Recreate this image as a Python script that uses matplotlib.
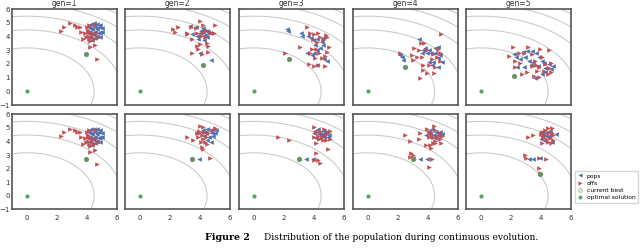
import numpy as np
import matplotlib
matplotlib.use("Agg")
import matplotlib.pyplot as plt
from matplotlib.lines import Line2D

BLUE = "#4C72B0"
RED = "#C44E52"
GREEN = "#55A868"

titles = ["gen=1", "gen=2", "gen=3", "gen=4", "gen=5"]
contour_levels = [20, 40, 60, 80, 100]
optimal = (0.0, 0.0)
x_ticks = [0, 2, 4, 6]
y_ticks = [-1, 0, 1, 2, 3, 4, 5, 6]

# ---- top row ----
pops_t1 = [(4.11,4.71),(4.27,4.91),(4.44,4.95),(4.67,4.91),(4.89,4.83),(5.0,4.59),(4.89,4.35),(4.78,4.22),
           (4.67,4.03),(4.51,3.86),(4.33,3.74),(4.22,3.98),(4.18,4.35),(4.33,4.52),(4.51,4.35),(4.67,4.52),
           (4.56,4.71),(4.4,4.22),(4.04,4.22),(4.78,4.71),(5.0,4.35),(4.44,4.1),(4.18,4.59),(4.89,3.98)]
offs_t1 = [(2.29,4.42),(2.49,4.71),(2.89,4.95),(3.22,4.83),(3.33,4.71),(3.51,4.71),(3.62,4.30),(3.73,3.81),
           (4.04,4.05),(4.22,3.69),(4.51,3.37),(4.18,3.25),(4.67,2.33),(3.89,4.22),(4.0,4.66),(4.07,4.47),
           (4.13,4.83),(4.22,4.32),(4.31,4.15),(3.96,3.93),(4.11,3.79),(4.36,3.93),(4.49,3.79),(4.62,4.22),
           (4.04,4.35),(4.78,3.98),(4.56,4.83)]
best_t1 = (3.91, 2.75)

pops_t2 = [(3.33,4.76),(3.73,4.66),(4.11,4.47),(4.22,4.3),(4.0,4.22),(3.89,3.79),(4.27,3.74),(4.49,3.93),
           (4.67,4.22),(4.0,2.76),(4.71,2.28),(3.44,4.18),(4.44,4.42),(4.33,4.1),(3.82,4.03),(4.18,4.59),
           (4.56,4.32),(4.04,4.42)]
offs_t2 = [(2.22,4.52),(2.56,4.71),(2.33,4.35),(3.11,4.15),(4.0,5.15),(4.22,4.83),(5.0,4.83),(4.67,4.22),
           (4.93,4.22),(4.33,3.98),(3.44,3.79),(4.0,3.45),(4.56,3.30),(4.56,2.89),(3.89,3.06),(3.44,2.76),
           (4.11,2.72),(4.18,4.22),(3.82,4.27),(3.78,3.30),(4.49,3.54),(3.73,4.59),(4.4,4.47),(4.09,4.03),
           (3.11,4.27),(3.38,4.71)]
best_t2 = (4.18, 1.91)

pops_t3 = [(2.22,4.52),(2.24,4.42),(3.11,4.22),(3.18,4.03),(3.78,3.86),(3.96,3.74),(4.22,3.79),(4.51,3.62),
           (4.58,3.37),(4.4,3.13),(4.22,3.01),(4.0,2.81),(3.51,2.76),(3.84,2.64),(4.67,2.33),(4.84,2.23),
           (4.18,1.91),(4.07,3.37),(3.62,4.03),(4.58,3.9)]
offs_t3 = [(3.56,4.66),(3.73,4.22),(4.0,4.18),(4.29,4.27),(4.8,4.1),(4.89,3.93),(4.4,3.93),(3.91,3.79),
           (3.07,3.25),(5.02,3.2),(3.84,3.06),(4.13,3.06),(3.73,2.76),(4.36,2.76),(4.89,2.89),(4.73,2.57),
           (2.07,2.78),(3.69,1.99),(4.0,1.84),(4.29,1.91),(4.73,1.84),(4.51,2.40),(4.07,2.40),(4.58,3.74),
           (4.18,3.62)]
best_t3 = (2.31, 2.33)

pops_t4 = [(3.4,3.79),(3.84,3.13),(4.07,3.01),(4.51,3.13),(4.67,3.20),(3.62,2.81),(3.96,2.76),(4.22,2.76),
           (4.51,2.76),(4.84,2.64),(4.73,2.40),(4.96,2.16),(4.36,2.16),(4.07,2.16),(4.29,1.91),(4.73,1.79),
           (2.29,2.52),(2.18,2.64),(2.36,2.28),(3.73,3.01)]
offs_t4 = [(4.89,4.15),(3.56,3.54),(3.78,3.49),(3.07,3.13),(3.4,3.01),(3.96,3.01),(4.67,3.06),(2.18,2.81),
           (2.96,2.64),(3.33,2.47),(3.02,2.28),(3.62,2.47),(4.29,2.33),(4.62,2.47),(4.84,2.23),(3.73,1.91),
           (4.07,1.91),(4.51,1.79),(3.73,1.55),(3.96,1.35),(4.44,1.35),(3.47,0.94),(4.8,2.81),(4.36,2.72)]
best_t4 = (2.47, 1.74)

pops_t5 = [(2.18,2.72),(2.33,2.47),(2.78,2.84),(3.07,2.96),(3.4,2.96),(3.67,2.76),(2.96,2.47),(3.18,2.23),
           (3.44,2.11),(3.89,2.47),(4.07,2.23),(4.18,2.03),(4.51,1.99),(4.78,1.86),(4.69,1.62),(4.29,1.38),
           (4.07,1.26),(3.62,0.96),(2.4,1.79),(2.84,1.79),(4.24,1.69),(3.8,1.86),(3.36,1.94),(2.62,2.35)]
offs_t5 = [(2.11,3.2),(1.84,2.59),(2.56,2.76),(2.84,2.76),(3.13,3.25),(3.4,2.72),(3.96,3.08),(4.56,3.01),
           (4.07,2.47),(2.24,2.23),(2.29,1.74),(2.62,2.03),(3.4,1.86),(3.67,1.94),(3.89,1.74),(4.29,1.99),
           (4.56,1.69),(4.69,1.38),(4.47,1.26),(3.73,1.50),(3.84,1.01),(3.51,1.13),(2.73,1.26),(3.62,2.23),
           (3.07,1.38),(4.69,2.03),(4.18,1.5)]
best_t5 = (2.18, 1.13)

# ---- bottom row ----
pops_b1 = pops_t1
offs_b1 = offs_t1
best_b1 = (3.91, 2.73)

pops_b2 = [(4.22,4.84),(4.49,4.89),(4.71,4.79),(4.89,4.89),(5.07,4.84),(5.0,4.6),(4.84,4.4),(4.62,4.30),
           (4.4,4.6),(4.27,4.4),(4.11,4.72),(4.49,4.11),(4.71,3.98),(3.96,2.73),(4.33,4.72),(4.78,4.6)]
offs_b2 = [(3.11,4.35),(3.56,4.11),(4.0,5.14),(4.22,5.09),(3.96,4.79),(3.82,4.6),(4.11,4.47),(3.89,4.30),
           (4.18,4.15),(4.33,3.98),(4.49,3.81),(4.11,3.61),(4.22,3.42),(4.67,2.75),(4.78,4.84),(5.0,4.97),
           (4.56,4.6),(4.4,4.35),(4.04,3.98),(3.96,4.6),(4.27,4.72)]
best_b2 = (3.44, 2.73)

pops_b3 = [(4.09,4.79),(4.24,4.89),(4.42,4.65),(4.64,4.6),(4.82,4.72),(4.98,4.47),(4.53,4.47),(4.31,4.55),
           (4.16,4.23),(4.42,4.23),(4.64,4.3),(3.98,4.6),(3.49,2.73),(3.93,2.73),(4.91,4.3),(4.69,4.79)]
offs_b3 = [(1.58,4.35),(2.31,4.11),(4.02,5.04),(4.16,4.72),(4.42,4.79),(4.69,4.89),(5.04,4.79),(4.91,4.6),
           (4.76,4.47),(4.53,4.35),(4.24,4.40),(4.02,4.35),(4.31,4.15),(4.6,4.11),(4.82,4.11),(5.04,4.15),
           (4.16,3.86),(4.91,3.42),(4.16,3.12),(3.98,2.63),(4.24,2.63),(4.42,2.39)]
best_b3 = (3.0, 2.73)

pops_b4 = [(4.07,4.79),(4.29,4.89),(4.58,4.72),(4.73,4.6),(4.96,4.55),(4.18,4.6),(4.4,4.47),(4.67,4.47),
           (4.18,4.35),(4.84,4.72),(4.51,4.23),(3.91,4.47),(3.51,2.73),(3.96,2.73),(3.02,2.76)]
offs_b4 = [(2.51,4.47),(2.8,4.06),(3.47,4.65),(3.42,4.15),(3.96,4.89),(4.07,4.72),(4.4,5.14),(4.51,4.84),
           (4.22,4.55),(4.36,4.35),(4.07,4.30),(4.62,4.30),(4.84,4.65),(4.96,4.40),(4.8,4.15),(4.51,4.06),
           (4.36,3.91),(4.18,3.74),(3.91,3.74),(4.51,3.86),(4.89,3.86),(4.22,3.49),(2.89,3.17),(3.02,3.0),
           (2.84,2.88),(3.11,2.68),(4.29,2.73),(4.07,2.14)]
best_b4 = (3.0, 2.73)

pops_b5 = [(3.98,4.72),(4.16,4.6),(4.38,4.72),(4.6,4.79),(5.0,4.55),(4.33,4.4),(4.04,4.4),(4.56,4.4),
           (4.27,4.06),(3.98,4.15),(4.71,3.98),(3.22,2.73),(3.49,2.73),(3.93,2.75)]
offs_b5 = [(3.16,4.3),(3.44,4.47),(4.04,4.72),(4.27,4.84),(4.49,4.97),(4.71,4.97),(3.98,4.55),(4.2,4.47),
           (4.49,4.6),(4.71,4.6),(4.11,4.3),(4.33,4.15),(4.6,4.23),(4.78,4.11),(4.49,3.98),(4.04,3.86),
           (2.93,3.0),(3.0,2.75),(3.89,2.75),(4.33,2.68),(3.89,2.02),(3.93,1.65),(4.82,4.47),(4.64,3.86)]
best_b5 = (3.93, 1.6)

rows = [
    [(pops_t1, offs_t1, best_t1), (pops_t2, offs_t2, best_t2), (pops_t3, offs_t3, best_t3),
     (pops_t4, offs_t4, best_t4), (pops_t5, offs_t5, best_t5)],
    [(pops_b1, offs_b1, best_b1), (pops_b2, offs_b2, best_b2), (pops_b3, offs_b3, best_b3),
     (pops_b4, offs_b4, best_b4), (pops_b5, offs_b5, best_b5)],
]

W, H = 640, 248
fig = plt.figure(figsize=(W / 100, H / 100), dpi=100)

col_left = [12, 125, 239, 352.5, 466]
ax_w = 105
row_top = [9, 114.3]
ax_h = [96, 95]

gx, gy = np.meshgrid(np.linspace(-1, 6, 300), np.linspace(-1, 6, 300))
gz = gx ** 2 + 2 * gy ** 2

for r in range(2):
    for c in range(5):
        left = col_left[c] / W
        bottom = 1 - (row_top[r] + ax_h[r]) / H
        ax = fig.add_axes([left, bottom, ax_w / W, ax_h[r] / H])
        pops, offs, best = rows[r][c]
        ax.contour(gx, gy, gz, levels=contour_levels, colors="#cccccc", linewidths=0.8, zorder=1)
        p = np.array(pops); o = np.array(offs)
        ax.scatter(p[:, 0], p[:, 1], marker="<", s=11, color=BLUE, linewidths=0, zorder=3)
        ax.scatter(o[:, 0], o[:, 1], marker=">", s=11, color=RED, linewidths=0, zorder=3)
        ax.scatter([best[0]], [best[1]], marker="o", s=9, facecolors="#8a7a66", edgecolors=GREEN,
                   linewidths=0.7, zorder=4)
        ax.scatter([optimal[0]], [optimal[1]], marker="o", s=9, color=GREEN, linewidths=0, zorder=4)
        ax.set_xlim(-1, 6)
        ax.set_ylim(-1, 6)
        ax.set_xticks(x_ticks)
        ax.set_yticks(y_ticks)
        ax.tick_params(length=0, labelsize=5, pad=2.5, labelcolor="#333333")
        if r == 0:
            ax.set_xticklabels([])
            ax.set_title(titles[c], fontsize=5.5, pad=2, color="#333333")
        else:
            ax.tick_params(axis="x", pad=4)
        if c != 0:
            ax.set_yticklabels([])
        else:
            ax.tick_params(axis="y", pad=1.5)
        for s in ax.spines.values():
            s.set_color("#555555")
            s.set_linewidth(1.2)

handles = [
    Line2D([], [], marker="<", ls="none", color=BLUE, markersize=3, markeredgewidth=0),
    Line2D([], [], marker=">", ls="none", color=RED, markersize=3, markeredgewidth=0),
    Line2D([], [], marker="o", ls="none", markerfacecolor="#dfe9df", markeredgecolor="#9cc7a6",
           markersize=2.8, markeredgewidth=0.6),
    Line2D([], [], marker="o", ls="none", color=GREEN, markersize=2.8, markeredgewidth=0),
]
labels = ["pops", "offs", "current best", "optimal solution"]
fig.legend(handles, labels, loc="upper left", bbox_to_anchor=(575 / W, 1 - 171 / H),
           fontsize=4.3, frameon=True, edgecolor="#cccccc", fancybox=False, handlelength=1.0,
           handletextpad=0.6, labelspacing=0.35, borderpad=0.4, borderaxespad=0)

cap_y = 1 - 237 / H
fig.text(205 / W, cap_y, "Figure 2", fontsize=6.8, fontweight="bold", family="DejaVu Serif",
         ha="left", va="center")
fig.text(264 / W, cap_y, "Distribution of the population during continuous evolution.",
         fontsize=6.6, family="DejaVu Serif", ha="left", va="center")

fig.savefig("out.png", dpi=100)
